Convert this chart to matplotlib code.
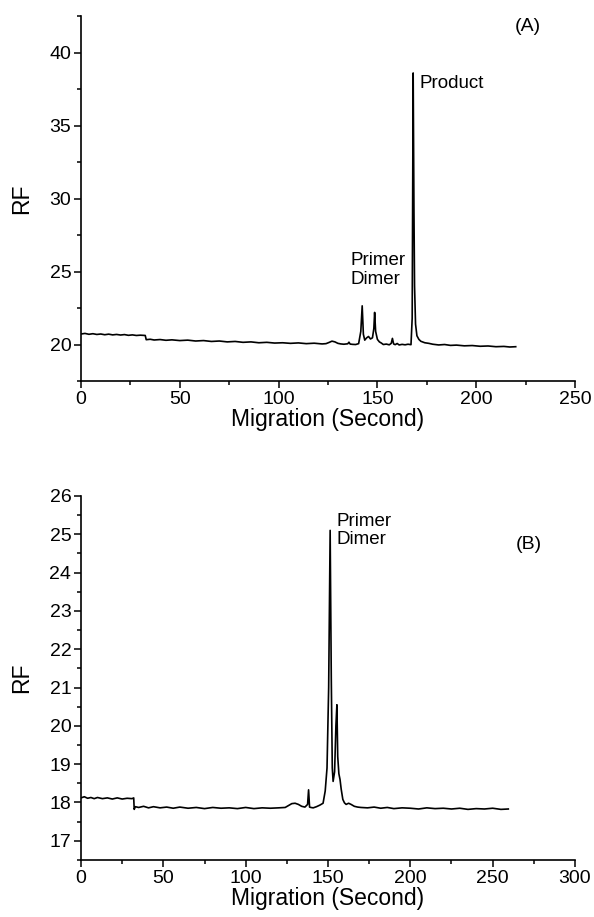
import numpy as np
import matplotlib.pyplot as plt
from matplotlib.ticker import MultipleLocator

plt.rcParams['font.family'] = ['Liberation Sans', 'DejaVu Sans']

# Panel A trace: migration time (s), RF
time_a = [0, 2, 4, 6, 8, 10, 12, 14, 16, 18, 20, 22, 24, 26, 28, 30, 32.5,
          33, 35, 37, 40, 43, 46, 50, 54, 58, 62, 66, 70, 74, 78, 82, 86,
          90, 94, 98, 102, 106, 110, 114, 118, 122, 124, 125.5, 127, 128.5,
          130, 131.5, 133, 135, 135.6, 136.2, 137.5, 139, 140.5, 141.6,
          142.3, 142.9, 143.6, 144.5, 145.5, 146.5, 147.5, 148.2, 148.6,
          149.1, 150, 151, 152, 153, 154.5, 156, 157, 157.6, 158.2, 159,
          160, 161, 162.5, 164, 165.5, 167, 167.6, 168.1, 168.5, 168.8,
          169.3, 170, 171, 172, 174, 176, 178, 181, 184, 187, 190, 194,
          198, 202, 206, 210, 214, 217, 220]
rf_a = [20.72, 20.76, 20.70, 20.74, 20.69, 20.72, 20.67, 20.71, 20.66, 20.69,
        20.65, 20.68, 20.63, 20.66, 20.62, 20.64, 20.62,
        20.33, 20.36, 20.31, 20.34, 20.29, 20.32, 20.27, 20.30, 20.24, 20.27,
        20.21, 20.24, 20.18, 20.21, 20.15, 20.18, 20.12, 20.15, 20.10, 20.12,
        20.08, 20.11, 20.06, 20.09, 20.04, 20.06, 20.14, 20.23, 20.18,
        20.08, 20.04, 20.02, 20.05, 20.16, 20.03, 20.01, 20.00, 20.06, 20.9,
        22.65, 20.7, 20.3, 20.45, 20.55, 20.38, 20.46, 21.1, 22.2,
        20.9, 20.35, 20.18, 20.10, 20.00, 20.03, 19.98, 20.08, 20.42, 20.04, 19.99,
        20.07, 19.97, 20.01, 19.98, 20.02, 19.99, 21.8, 38.6, 29.2, 24.0,
        21.4, 20.6, 20.35, 20.22, 20.12, 20.08, 20.02, 19.97, 20.00, 19.94,
        19.96, 19.91, 19.93, 19.88, 19.90, 19.85, 19.87, 19.83, 19.85]

# Panel B trace
time_b = [0, 2, 4, 6, 8, 10, 13, 16, 19, 22, 25, 28, 31, 32, 32.3, 33, 35,
          38, 41, 44, 48, 52, 56, 60, 65, 70, 75, 80, 85, 90, 95, 100, 105,
          110, 115, 120, 124, 126, 128, 130, 132, 134, 136, 137.6, 138.2,
          138.8, 139.6, 141, 143, 145, 147, 148.3, 149.4, 150.4, 151.3,
          152.0, 152.6, 153.1, 154.0, 154.8, 155.4, 155.9, 156.6, 157.3,
          158.0, 159, 160, 161, 162.5, 164, 166, 168, 170, 174, 178, 182,
          186, 190, 195, 200, 205, 210, 215, 220, 225, 230, 235, 240, 245,
          250, 255, 259.5]
rf_b = [18.12, 18.15, 18.11, 18.13, 18.10, 18.13, 18.10, 18.12, 18.09, 18.12,
        18.09, 18.11, 18.10, 18.12, 17.82, 17.89, 17.87, 17.90, 17.86, 17.89,
        17.86, 17.88, 17.85, 17.88, 17.85, 17.87, 17.84, 17.87, 17.85, 17.86,
        17.84, 17.87, 17.84, 17.86, 17.85, 17.86, 17.87, 17.92, 17.97, 17.98,
        17.95, 17.90, 17.88, 17.95, 18.33, 17.88, 17.87, 17.86, 17.89, 17.93,
        17.98, 18.3, 18.9, 21.0, 25.1, 21.2, 18.9, 18.55, 18.8, 20.0, 20.55,
        19.2, 18.75, 18.6, 18.35, 18.08, 17.99, 17.95, 17.98, 17.95, 17.90, 17.88,
        17.87, 17.86, 17.88, 17.85, 17.87, 17.84, 17.86, 17.85, 17.83, 17.86,
        17.84, 17.85, 17.83, 17.85, 17.82, 17.84, 17.83, 17.85, 17.82, 17.83]

fig = plt.figure(figsize=(5.94, 9.17), dpi=100)
ax_a = fig.add_axes([0.1364, 0.5845, 0.8316, 0.398])
ax_b = fig.add_axes([0.1364, 0.0622, 0.8316, 0.397])


def style(ax):
    for side in ['top', 'right']:
        ax.spines[side].set_visible(False)
    for side in ['left', 'bottom']:
        ax.spines[side].set_linewidth(1.2)
    ax.tick_params(which='major', direction='out', length=5, width=1.1,
                   labelsize=14, pad=2)
    ax.tick_params(which='minor', direction='out', length=3, width=1.1)
    ax.set_xlabel('Migration (Second)', fontsize=16.5, labelpad=0)
    ax.set_ylabel('RF', fontsize=16.5, labelpad=12)


# (A)
ax_a.plot(time_a, rf_a, color='black', lw=1.2)
ax_a.set_xlim(0, 250)
ax_a.set_ylim(17.5, 42.5)
ax_a.xaxis.set_major_locator(MultipleLocator(50))
ax_a.xaxis.set_minor_locator(MultipleLocator(25))
ax_a.yaxis.set_major_locator(MultipleLocator(5))
ax_a.yaxis.set_minor_locator(MultipleLocator(2.5))
style(ax_a)
ax_a.text(226, 41.8, '(A)', fontsize=14, ha='center', va='center')
ax_a.text(171.5, 37.9, 'Product', fontsize=13.5, ha='left', va='center')
ax_a.text(136.4, 25.1, 'Primer\nDimer', fontsize=13.5, ha='left', va='center',
          linespacing=1.1)

# (B)
ax_b.plot(time_b, rf_b, color='black', lw=1.2)
ax_b.set_xlim(0, 300)
ax_b.set_ylim(16.5, 26)
ax_b.xaxis.set_major_locator(MultipleLocator(50))
ax_b.xaxis.set_minor_locator(MultipleLocator(25))
ax_b.yaxis.set_major_locator(MultipleLocator(1))
ax_b.yaxis.set_minor_locator(MultipleLocator(0.5))
style(ax_b)
ax_b.text(272, 24.72, '(B)', fontsize=14, ha='center', va='center')
ax_b.text(155.2, 25.1, 'Primer\nDimer', fontsize=13.5, ha='left', va='center',
          linespacing=1.1)

fig.savefig('out.png', dpi=100)
